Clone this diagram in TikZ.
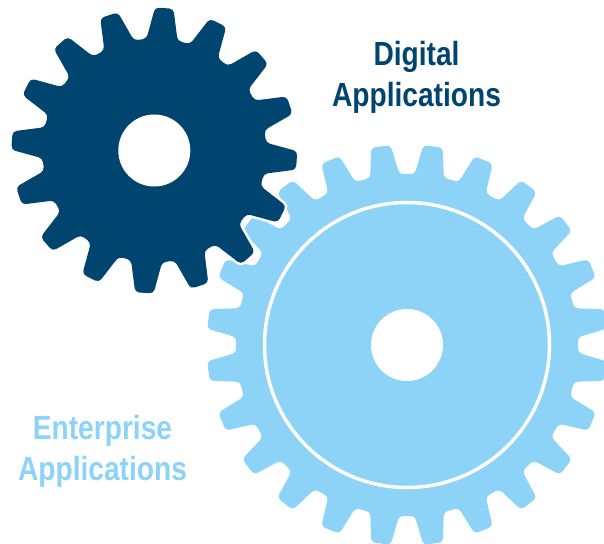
\documentclass[tikz,border=0pt]{standalone}
\usepackage{fontspec}
\setmainfont{Liberation Sans}[FakeStretch=0.84]
\definecolor{darkgear}{HTML}{004570}
\definecolor{lightgear}{HTML}{8CD3F7}
\newcommand{\gearoutline}[6]{% first angle, teeth, root radius, tip radius, half base, half tip
    (#1-180/#2:#3)
    \foreach \i in {1,...,#2} {
        \pgfextra{\pgfmathsetmacro{\a}{#1+(\i-1)*360/#2}}
        -- (\a-#5:#3) -- (\a-#6:#4) -- (\a+#6:#4) -- (\a+#5:#3)
    }
    -- cycle
}
\begin{document}
\begin{tikzpicture}[x=1pt,y=1pt,gear fill/.style={rounded corners=4pt,fill=#1},
    hole/.style={circle,fill=white,minimum size=72pt,inner sep=0pt},
    label text/.style={font=\bfseries\fontsize{33.5}{41}\selectfont,align=center,inner sep=0pt}]
    \useasboundingbox (0,0) rectangle (604,543);
    \fill[white] (0,0) rectangle (604,543);

    \begin{scope}[shift={(407,198)}]
        \fill[gear fill=lightgear] \gearoutline{7.5}{24}{171}{200.5}{4.9}{2.8};
        \node[circle,draw=white,line width=3.5pt,minimum size=285pt,inner sep=0pt] (ring) at (0,0) {};
        \node[hole] (lighthole) at (0,0) {};
    \end{scope}

    \begin{scope}[shift={(154.3,392.5)}]
        \fill[gear fill=darkgear,preaction={draw=white,line width=5pt}] \gearoutline{86}{16}{112}{143}{8}{3.7};
        \node[hole] (darkhole) at (0,0) {};
    \end{scope}

    \node[label text,text=darkgear] (digital) at (416.5,465.5) {Digital\\Applications};
    \node[label text,text=lightgear] (enterprise) at (102.5,92) {Enterprise\\Applications};
\end{tikzpicture}
\end{document}
